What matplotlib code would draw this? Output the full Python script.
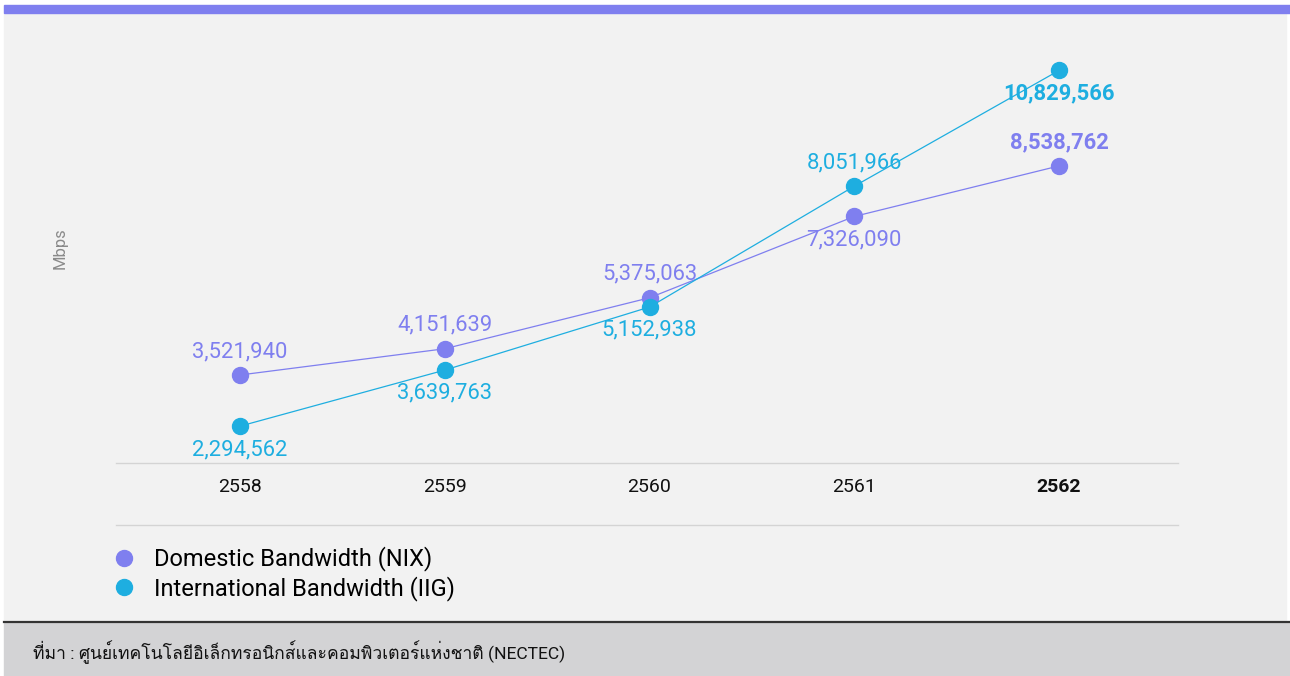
import matplotlib
matplotlib.use("Agg")
from matplotlib import pyplot as plt
from matplotlib import font_manager, ft2font
from matplotlib.lines import Line2D
from matplotlib.patches import Rectangle
import numpy as np

years = ["2558", "2559", "2560", "2561", "2562"]
nix_name = "Domestic Bandwidth (NIX)"
iig_name = "International Bandwidth (IIG)"
nix = [3521940, 4151639, 5375063, 7326090, 8538762]
iig = [2294562, 3639763, 5152938, 8051966, 10829566]
# label above (+1) or below (-1) the point
nix_side = [1, 1, 1, -1, 1]
iig_side = [-1, -1, -1, 1, -1]
source = "ที่มา : ศูนย์เทคโนโลยีอิเล็กทรอนิกส์และคอมพิวเตอร์แห่งชาติ (NECTEC)"

NIX_COLOR = "#7f7fef"
IIG_COLOR = "#1eaee0"
BG = "#f2f2f2"


def find_thai_font():
    for f in font_manager.fontManager.ttflist:
        try:
            cmap = ft2font.FT2Font(f.fname).get_charmap()
        except Exception:
            continue
        if 0x0E01 in cmap and 0x0E35 in cmap:
            return f.name
    return "DejaVu Sans"


thai_font = find_thai_font()
plt.rcParams["font.family"] = ["Roboto", thai_font, "DejaVu Sans"]

W, H = 1290, 676
fig = plt.figure(figsize=(W / 100, H / 100), dpi=100, facecolor="white")


def fx(px):
    return px / W


def fy(py):
    return 1 - py / H


def add_rect(x0, y0, x1, y1, color):
    # pixel box (top-left origin) -> figure rectangle behind everything
    fig.patches.append(Rectangle((fx(x0), fy(y1)), fx(x1) - fx(x0), fy(y0) - fy(y1),
                                 transform=fig.transFigure, color=color, zorder=-5))


# background panels
add_rect(4, 13, 1286, 621, BG)
add_rect(4, 5, 1290, 13, NIX_COLOR)
add_rect(4, 623, 1290, 676, "#d3d3d5")
fig.lines.append(Line2D([fx(4), 1], [fy(622), fy(622)], transform=fig.transFigure,
                        color="#333333", lw=1.6, zorder=-4))
# separator above legend
fig.lines.append(Line2D([fx(116), fx(1178)], [fy(525), fy(525)], transform=fig.transFigure,
                        color="#d4d4d4", lw=1, zorder=-4))

ax = fig.add_axes([fx(116), fy(463), fx(1178) - fx(116), fy(30) - fy(463)])
ax.set_facecolor("none")
x = np.arange(len(years))
ax.plot(x, nix, color=NIX_COLOR, lw=0.9, marker="o", markersize=11.5, zorder=3)
ax.plot(x, iig, color=IIG_COLOR, lw=0.9, marker="o", markersize=11.5, zorder=3)

ax.set_xlim(-0.606, 4.581)
ax.set_ylim(1.41e6, 11.80e6)

for series, sides, color in [(nix, nix_side, NIX_COLOR), (iig, iig_side, IIG_COLOR)]:
    for i, (v, s) in enumerate(zip(series, sides)):
        bold = i == len(series) - 1
        ax.annotate(f"{v:,}", (x[i], v), xytext=(0, 16.8 * s), textcoords="offset points",
                    ha="center", va="center", color=color, fontsize=15.8,
                    fontweight="bold" if bold else "normal", zorder=4)

for sp in ["top", "left", "right"]:
    ax.spines[sp].set_visible(False)
ax.spines["bottom"].set_color("#d4d4d4")
ax.spines["bottom"].set_linewidth(1)
ax.set_yticks([])
ax.set_xticks(x)
ax.set_xticklabels(years, fontsize=14, color="#111111")
ax.get_xticklabels()[-1].set_fontweight("bold")
ax.tick_params(axis="x", length=0, pad=11)

fig.text(fx(60), fy(248), "Mbps", rotation=90, ha="center", va="center",
         fontsize=12, color="#8a8a8a")

handles = [Line2D([], [], ls="none", marker="o", markersize=11.5, color=NIX_COLOR),
           Line2D([], [], ls="none", marker="o", markersize=11.5, color=IIG_COLOR)]
fig.legend(handles, [nix_name, iig_name], loc="upper left",
           bbox_to_anchor=(fx(103), fy(537)), frameon=False, fontsize=17,
           handletextpad=0.78, labelspacing=0.2, handlelength=1.0, borderaxespad=0)

fig.text(fx(33), fy(652), source, ha="left", va="center", fontsize=12.6, color="#111111")

fig.savefig("out.png", dpi=100, facecolor=fig.get_facecolor())
